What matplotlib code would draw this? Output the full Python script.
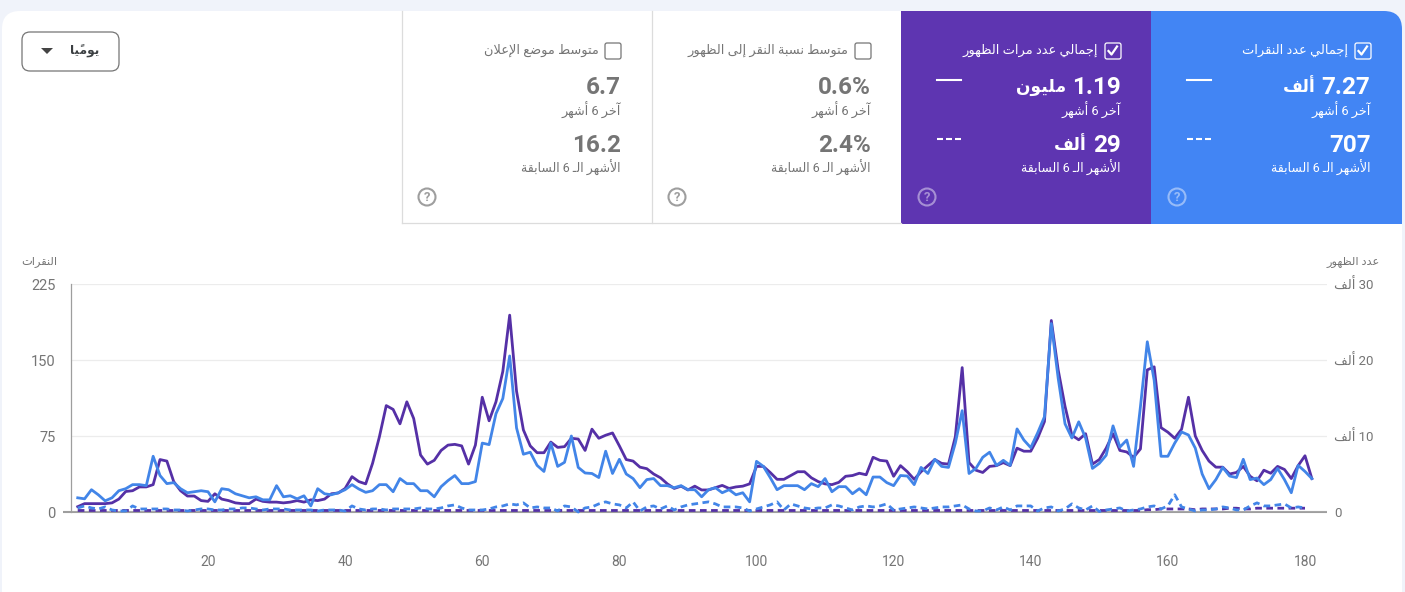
import re
import matplotlib
matplotlib.use("Agg")
import matplotlib.pyplot as plt
from matplotlib.patches import FancyBboxPatch, Rectangle, Circle, Polygon

plt.rcParams['font.family'] = ['Roboto', 'DejaVu Sans']

# ---------- data ----------
clicks = [14,13,22,17,11,14,21,23,27,27,26,55,36,28,29,23,19,20,21,20,10,23,22,18,16,14,15,12,12,26,15,16,13,16,6,23,18,17,19,22,
          27,22.7,19.4,21,27,27,20,33,28,28,21,21,15,25,31,36,28,28,30,68,66.5,97,112,154,83,57,59,46,40,68,45,49,75,44,38.5,38,34,60,38,52,37.5,33,24,32,33,26,26,24,26,22,22,
          15,22,24,19,22,17,19,10,50,45,34,22,26,26,26,22,28,25,33,20,25,25,18,23,17,34.5,34.5,29,26,36,35.5,27,44,38,52,45,44,68,100,38,43,54,59,46,51,46,82,71,63.5,78,94,
          186,132,87,73,89,73,43,48,56,85,64,71,45,104,168,130,55,55,68,79,76,63,37.5,23,32,44,35.5,34,52,32,33.5,27,32,43,32,19,46,40,33]
impressions_k = [0.7,1.1,1.1,1.1,1.1,1.2,1.7,2.7,2.8,3.3,3.3,3.6,6.9,6.7,4.0,2.8,2.1,2.1,1.5,1.4,2.4,1.7,1.5,1.2,1.1,1.1,1.7,1.4,1.3,1.3,1.2,1.3,1.5,1.3,1.6,1.5,1.7,2.4,2.5,3.1,
                 4.65,4.0,3.7,6.4,9.9,14.0,13.5,11.6,14.5,12.3,7.5,6.3,6.8,8.1,8.8,8.9,8.7,6.3,8.8,15.1,12.0,14.5,18.5,25.9,15.9,10.8,8.7,7.8,7.8,9.2,8.5,8.6,9.7,9.6,8.1,10.9,9.7,10.1,10.4,8.7,6.9,6.7,5.9,5.7,5.0,4.5,3.7,3.1,3.4,2.9,3.4,
                 2.9,2.9,3.2,3.5,3.1,3.3,3.4,3.7,6.0,6.0,5.2,4.3,4.3,4.8,5.3,5.3,4.5,4.0,3.7,3.6,3.9,4.7,4.8,5.1,4.9,7.2,6.8,6.7,4.7,6.1,5.3,4.3,5.3,6.1,6.9,6.4,6.3,9.9,19.0,6.5,5.5,5.2,6.0,6.1,6.5,6.1,8.4,8.0,8.0,9.7,11.9,
                 25.2,18.7,13.9,10.1,9.5,10.3,6.3,6.9,8.4,10.3,8.1,7.9,7.2,8.3,18.7,19.1,11.1,10.5,9.7,10.9,15.1,10.0,8.1,6.7,5.9,5.9,5.0,5.2,6.0,4.7,4.1,5.5,5.1,6.0,5.6,4.4,6.1,7.4,4.4]
prev_clicks = [4,6,4,3,5,2,1,1,6,3,3,3,3,3,2,2,1,2,3,3,2,2,3,3,4,4,3,2,3,3,3,2,2,2,2,1,2,2,2,1,6,3,2,3,3,2,
               3,3,3,3,4,3,3,4,6,7,4,2,2,2,3,5,6,8,7,9,4,5,4,4,1,6,5,0,4,5,8,10,8,7,4,10,1,5,6,3,6,2,5,7,8,9,
               10,8,5,5,5,4,1,3,5,7,10,2,8,6,4,3,4,4,7,6,4,2,5,6,5,6,8,2,3,4,5,4,3,4,5,5,6,7,3,1,1,4,2,5,2,
               6,6,6,1,4,5,1,3,8,4,2,6,0.5,2,3,4,1,2,3,5,6,3,6,17,5,3,1,2,2,3,5,4,2,2,6,9,6,6,7,8,4,5,4]
prev_impressions_k = [0.2,0.2,0.2,0.2,0.2,0.2,0.2,0.2,0.2,0.2,0.2,0.2,0.2,0.2,0.2,0.2,0.2,0.2,0.2,0.2,0.2,0.2,0.2,0.2,0.2,0.2,0.2,0.2,0.2,0.2,
                      0.2,0.2,0.2,0.2,0.2,0.2,0.2,0.2,0.2,0.2,0.2,0.2,0.2,0.2,0.2,0.2,0.2,0.2,0.2,0.2,0.2,0.2,0.2,0.2,0.2,0.2,0.2,0.2,0.2,0.2,
                      0.2,0.2,0.2,0.2,0.2,0.2,0.2,0.2,0.2,0.2,0.2,0.2,0.2,0.2,0.2,0.2,0.2,0.2,0.2,0.2,0.2,0.2,0.2,0.2,0.2,0.2,0.2,0.2,0.2,0.2,
                      0.2,0.2,0.2,0.2,0.2,0.2,0.2,0.2,0.2,0.2,0.2,0.2,0.2,0.2,0.2,0.2,0.2,0.2,0.2,0.2,0.2,0.2,0.2,0.2,0.2,0.2,0.2,0.2,0.2,0.2,
                      0.2,0.2,0.2,0.2,0.2,0.2,0.2,0.2,0.2,0.2,0.2,0.2,0.2,0.2,0.2,0.2,0.2,0.2,0.2,0.2,0.2,0.2,0.2,0.2,0.2,0.2,0.2,0.2,0.2,0.2,
                      0.2,0.2,0.2,0.2,0.2,0.2,0.3,0.3,0.4,0.4,0.4,0.4,0.4,0.3,0.4,0.4,0.4,0.4,0.5,0.5,0.4,0.4,0.5,0.5,0.5,0.5,0.5,0.5,0.5,0.5]
assert len(clicks) == 181 and len(impressions_k) == 181
assert len(prev_clicks) == 180 and len(prev_impressions_k) == 180

x_ticks = [20, 40, 60, 80, 100, 120, 140, 160, 180]
left_ticks = [0, 75, 150, 225]
right_ticks = [0, 10, 20, 30]
right_tick_labels = ["0", "10 ألف", "20 ألف", "30 ألف"]

dropdown_label = "يوميًا"
axis_left_title = "النقرات"
axis_right_title = "عدد الظهور"
period_current = "آخر 6 أشهر"
period_previous = "الأشهر الـ 6 السابقة"
cards = [
    dict(title="إجمالي عدد النقرات", cur="7.27 ألف", prev="707", bg="#4285f4", on=True),
    dict(title="إجمالي عدد مرات الظهور", cur="1.19 مليون", prev="29 ألف", bg="#5e35b1", on=True),
    dict(title="متوسط نسبة النقر إلى الظهور", cur="0.6%", prev="2.4%", bg=None, on=False),
    dict(title="متوسط موضع الإعلان", cur="6.7", prev="16.2", bg=None, on=False),
]

# ---------- Arabic shaping (matplotlib has no bidi / joining) ----------
BASE = {'ء':0xFE80,'آ':0xFE81,'أ':0xFE83,'ؤ':0xFE85,'إ':0xFE87,'ا':0xFE8D,'ة':0xFE93,'د':0xFEA9,'ذ':0xFEAB,
        'ر':0xFEAD,'ز':0xFEAF,'و':0xFEED,'ى':0xFEEF}
TWO = set('آأؤإاةدذرزوى')
BASE.update({'ئ':0xFE89,'ب':0xFE8F,'ت':0xFE95,'ث':0xFE99,'ج':0xFE9D,'ح':0xFEA1,'خ':0xFEA5,'س':0xFEB1,'ش':0xFEB5,
             'ص':0xFEB9,'ض':0xFEBD,'ط':0xFEC1,'ظ':0xFEC5,'ع':0xFEC9,'غ':0xFECD,'ف':0xFED1,'ق':0xFED5,'ك':0xFED9,
             'ل':0xFEDD,'م':0xFEE1,'ن':0xFEE5,'ه':0xFEE9,'ي':0xFEF1})
LAM_ALEF = {'ا':0xFEFB,'أ':0xFEF7,'إ':0xFEF9,'آ':0xFEF5}
MARKS = set('\u064b\u064c\u064d\u064e\u064f\u0650\u0651\u0652')
TATWEEL = '\u0640'

def _joins_next(c):
    return c == TATWEEL or (c in BASE and c not in TWO and c != 'ء')
def _joins_prev(c):
    return c == TATWEEL or (c in BASE and c != 'ء')

def _shape_word(w):
    letters = []
    for ch in w:
        if ch in MARKS and letters:
            letters[-1][1] += ch
        else:
            letters.append([ch, ''])
    out, i = [], 0
    n = len(letters)
    while i < n:
        c, m = letters[i]
        prev_join = i > 0 and _joins_next(letters[i-1][0]) and _joins_prev(c)
        if c == 'ل' and i + 1 < n and letters[i+1][0] in LAM_ALEF:
            g = chr(LAM_ALEF[letters[i+1][0]] + (1 if prev_join else 0))
            out.append(g)
            i += 2
            continue
        if c == TATWEEL or c not in BASE:
            out.append(c + m)
            i += 1
            continue
        next_join = i + 1 < n and _joins_next(c) and _joins_prev(letters[i+1][0])
        b = BASE[c]
        if c in TWO or c == 'ء':
            g = chr(b + (1 if prev_join and c != 'ء' else 0))
        elif prev_join and next_join:
            g = chr(b + 3)
        elif prev_join:
            g = chr(b + 1)
        elif next_join:
            g = chr(b + 2)
        else:
            g = chr(b)
        out.append(g + m)
        i += 1
    return ''.join(reversed(out))

def ar(s):
    if not re.search('[\u0600-\u06ff]', s):
        return s
    tokens = re.findall(r'[0-9.,%]+|\s+|[^\s0-9.,%]+', s)
    return ''.join(t if re.match(r'[0-9.,%\s]', t) else _shape_word(t) for t in reversed(tokens))

# ---------- figure ----------
W, H = 1405, 592
fig = plt.figure(figsize=(W/100, H/100), dpi=100, facecolor='#f0f3fa')
bg = fig.add_axes([0, 0, 1, 1])
bg.set_xlim(0, W); bg.set_ylim(H, 0); bg.axis('off')
renderer = fig.canvas.get_renderer()

card = FancyBboxPatch((2+18, 11+18), 1400-36, 640, boxstyle="round,pad=18,rounding_size=18",
                      fc='white', ec='none', zorder=1)
bg.add_patch(card)

TXT = '#757575'

def big_value(right, y, s, color):
    """Number in bold Roboto, with the Arabic unit word set smaller to its left."""
    parts = s.split(' ', 1)
    t = bg.text(right, y, parts[0], ha='right', va='center', color=color, fontsize=17.5,
                fontweight='bold', zorder=4)
    if len(parts) > 1:
        x0 = t.get_window_extent(renderer).x0
        bg.text(x0 - 6, y, ar(parts[1]), ha='right', va='center', color=color, fontsize=12.3,
                fontweight='bold', zorder=4)

for i, c in enumerate(cards):
    x0 = 1151 - 250*i
    x1 = x0 + 250 if i else 1402
    active = c['bg'] is not None
    if active:
        r = Rectangle((x0, 11), x1-x0, 213, fc=c['bg'], ec='none', zorder=2)
        bg.add_patch(r); r.set_clip_path(card)
    fg = 'white' if active else TXT
    rt = x0 + 219.5
    # checkbox
    bg.add_patch(FancyBboxPatch((rt-13.5, 45), 12, 12, boxstyle="round,pad=2,rounding_size=2",
                                fc='none', ec='white' if active else '#757575', lw=0.9, zorder=3))
    if c['on']:
        bg.plot([rt-12, rt-9, rt-3.5], [51, 54.5, 46.5], color='white', lw=1.6, zorder=4)
    bg.text(rt-22, 50, ar(c['title']), ha='right', va='center', color=fg, fontsize=9.4, zorder=4)
    big_value(rt, 87, c['cur'], fg)
    bg.text(rt, 110, ar(period_current), ha='right', va='center', color=fg, fontsize=9.2, zorder=4)
    big_value(rt, 145, c['prev'], fg)
    bg.text(rt, 168, ar(period_previous), ha='right', va='center', color=fg, fontsize=9.0, zorder=4)
    # help icon
    ic = (x0 + 26, 197)
    icol = '#ffffff' if active else '#9e9e9e'
    ial = 0.45 if active else 1
    bg.add_patch(Circle(ic, 8.5, fc='none', ec=icol, lw=1.5, alpha=ial, zorder=4))
    bg.text(ic[0], ic[1]+0.3, '?', ha='center', va='center', color=icol, alpha=ial, fontsize=9.5,
            fontweight='bold', zorder=4)
    if active:
        bg.plot([x0+36, x0+60], [80, 80], color='white', lw=1.5, zorder=4)
        bg.plot([x0+36, x0+60], [139, 139], color='white', lw=1.5, dashes=(2.88, 1.44), zorder=4)

# white panel borders
for xb in (401.5, 651.5):
    bg.plot([xb, xb], [11, 223], color='#dcdcdc', lw=0.9, zorder=2)
bg.plot([401.5, 901], [223, 223], color='#dcdcdc', lw=0.9, zorder=2)

# dropdown
bg.add_patch(FancyBboxPatch((22+8, 32+8), 97-16, 39-16, boxstyle="round,pad=8,rounding_size=8",
                            fc='white', ec='#757575', lw=0.9, zorder=3))
bg.add_patch(Polygon([[41, 48], [53, 48], [47, 54]], closed=True, fc='#444444', ec='none', zorder=4))
bg.text(99, 51, ar(dropdown_label), ha='right', va='center', color='#3c4043', fontsize=8.8,
        fontweight='bold', zorder=4)

# axis titles
bg.text(57, 262, ar(axis_left_title), ha='right', va='center', color=TXT, fontsize=8.2)
bg.text(1380, 262, ar(axis_right_title), ha='right', va='center', color=TXT, fontsize=8.2)

# ---------- chart ----------
L, R, T, B = 71, 1327, 284, 512
pos = [L/W, 1-B/H, (R-L)/W, (B-T)/H]
ax2 = fig.add_axes(pos, zorder=2)      # impressions, right axis
ax = fig.add_axes(pos, zorder=3)       # clicks, left axis
ax.patch.set_visible(False); ax2.patch.set_visible(False)
unit = (1305-208)/160
xmin = 20 - (208-L)/unit
xmax = 180 + (R-1305)/unit
xs_full = list(range(1, 182))
xs_prev = list(range(1, 181))
BLUE, PURPLE = '#4285e8', '#5530a6'
LW = 2.0
DASH = (2.4, 1.6)

ax2.plot(xs_prev, prev_impressions_k, color=PURPLE, lw=LW, dashes=DASH, clip_on=False, zorder=4)
ax2.plot(xs_full, impressions_k, color=PURPLE, lw=LW, clip_on=False, zorder=5)
ax.plot(xs_prev, prev_clicks, color=BLUE, lw=LW, dashes=DASH, clip_on=False, zorder=4)
ax.plot(xs_full, clicks, color=BLUE, lw=LW, clip_on=False, zorder=5)

ax.set_xlim(xmin, xmax); ax2.set_xlim(xmin, xmax)
ax.set_ylim(0, 225); ax2.set_ylim(0, 30)
for s in ax.spines.values(): s.set_visible(False)
for s in ax2.spines.values(): s.set_visible(False)
ax.spines['left'].set_visible(True); ax.spines['left'].set_color('#9e9e9e'); ax.spines['left'].set_linewidth(0.9)

ax.set_xticks(x_ticks)
ax.set_yticks(left_ticks)
ax.tick_params(axis='x', length=0, pad=31, labelsize=10, labelcolor=TXT)
ax.tick_params(axis='y', length=0, pad=11, labelsize=10.5, labelcolor=TXT)
ax2.set_xticks([])
ax2.yaxis.tick_right()
ax2.set_yticks(right_ticks)
ax2.set_yticklabels([ar(s) for s in right_tick_labels], ha='left')
ax2.tick_params(axis='y', length=0, pad=5, labelsize=9.5, labelcolor=TXT)
ax2.grid(axis='y', color='#ececec', lw=0.9, zorder=0)
ax2.set_axisbelow(True)

# zero baseline with its stub on the left
bg.plot([63, R], [512, 512], color='#9e9e9e', lw=1.5, zorder=5, solid_capstyle='butt')

fig.savefig('out.png', dpi=100, facecolor=fig.get_facecolor())
